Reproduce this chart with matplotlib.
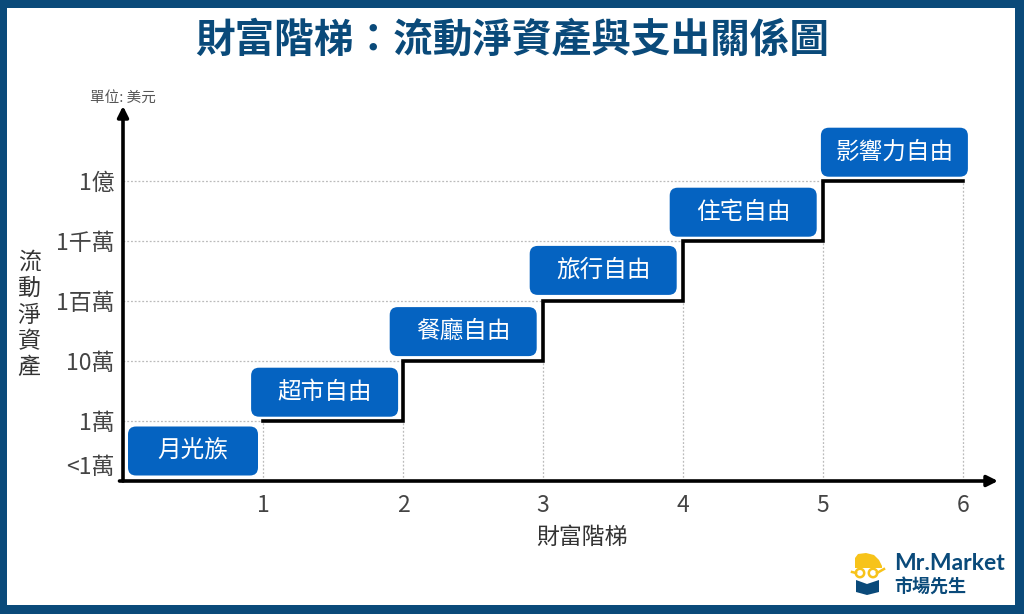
import matplotlib
matplotlib.use("Agg")
import matplotlib.pyplot as plt
from matplotlib.patches import FancyBboxPatch, Rectangle, Polygon, Circle
from matplotlib.transforms import Affine2D

plt.rcParams['font.family'] = ['Noto Sans CJK TC', 'DejaVu Sans']

# ---- data ----
title = "財富階梯：流動淨資產與支出關係圖"
stages = ["月光族", "超市自由", "餐廳自由", "旅行自由", "住宅自由", "影響力自由"]
stage_x = [1, 2, 3, 4, 5, 6]          # x where each step starts (ladder rung)
stage_level = [1, 2, 3, 4, 5, 5]      # net-asset level (log10 scale index)
ytick_labels = ["<1萬", "1萬", "10萬", "1百萬", "1千萬", "1億"]
ytick_pos = [0.27, 1, 2, 3, 4, 5]
xticks = [1, 2, 3, 4, 5, 6]
xlabel = "財富階梯"
ylabel = "流動淨資產"
unit_text = "單位: 美元"

NAVY = "#0A4A7A"
BLUE = "#0563C1"
W, H = 1024, 614

fig = plt.figure(figsize=(W / 100, H / 100), dpi=100)
fig.patch.set_facecolor("white")
px = Affine2D().scale(1 / W, 1 / H) + fig.transFigure

def P(x, y):
    return (x, H - y)

# border
for (x0, y0, w, h) in [(0, 0, 7, H), (W - 9, 0, 9, H), (0, 0, W, 8), (0, H - 9, W, 9)]:
    fig.patches.append(Rectangle((x0, H - y0 - h), w, h, transform=px,
                                 facecolor=NAVY, edgecolor="none", zorder=0))

# title
fig.text(512 / W, 1 - 40 / H, title, ha="center", va="center", fontsize=28.5,
         fontweight="heavy", color=NAVY)

# axes
ax_l, ax_b, ax_r, ax_t = 123, 481, 998, 106
ax = fig.add_axes([ax_l / W, (H - ax_b) / H, (ax_r - ax_l) / W, (ax_b - ax_t) / H])
xmax, ymax = 6.25, 6.25
ax.set_xlim(0, xmax)
ax.set_ylim(0, ymax)
for s in ax.spines.values():
    s.set_visible(False)
ax.set_facecolor("none")

ax.set_xticks(xticks)
ax.set_xticklabels([str(v) for v in xticks])
ax.set_yticks(ytick_pos)
ax.set_yticklabels(ytick_labels)
ax.tick_params(axis="both", length=0, labelsize=16.5, labelcolor="#444444")
ax.tick_params(axis="x", pad=9)
ax.tick_params(axis="y", pad=6)

# axis arrows
arrow_kw = dict(arrowstyle="-|>", lw=2.6, color="black", mutation_scale=16,
                shrinkA=0, shrinkB=0)
ax.annotate("", xy=(1.0, 0), xytext=(-0.004, 0), xycoords="axes fraction",
            textcoords="axes fraction", arrowprops=arrow_kw, annotation_clip=False)
ax.annotate("", xy=(0, 1.0), xytext=(0, 0), xycoords="axes fraction",
            textcoords="axes fraction", arrowprops=arrow_kw, annotation_clip=False)

# dotted drop lines from step corners
grid_kw = dict(color="#BBBBBB", lw=0.9, linestyles=(0, (1.5, 1.5)), zorder=1)
for xs, lv in zip(stage_x[:-1], stage_level[:-1]):
    ax.hlines(lv, 0, xs, **grid_kw)
prev = [stage_level[0]] + stage_level[:-1]
for xs, lv in zip(stage_x, prev):
    ax.vlines(xs, 0, lv, **grid_kw)

# step line
ax.plot(stage_x, stage_level, drawstyle="steps-post", color="black", lw=2.6,
        solid_joinstyle="miter", zorder=3)

# stage boxes
px_per_x = (ax_r - ax_l) / xmax
px_per_y = (ax_b - ax_t) / ymax
aspect = px_per_x / px_per_y
box_cx = [0.5, 1.44, 2.43, 3.43, 4.43, 5.51]
box_cy = [0.5, 1.48, 2.49, 3.51, 4.48, 5.48]
box_w = [130 / px_per_x] + [147 / px_per_x] * 5
box_h = 49 / px_per_y
for name, cx, cy, bw in zip(stages, box_cx, box_cy, box_w):
    patch = FancyBboxPatch((cx - bw / 2, cy - box_h / 2), bw, box_h,
                           boxstyle="round,pad=0,rounding_size=%f" % (8 / px_per_x),
                           mutation_aspect=aspect, facecolor=BLUE, edgecolor="none",
                           zorder=4)
    ax.add_patch(patch)
    ax.text(cx, cy, name, ha="center", va="center", fontsize=17, color="white",
            zorder=5)

# axis labels
fig.text(582 / W, 1 - 537 / H, xlabel, ha="center", va="center", fontsize=16.5,
         color="#333333")
fig.text(29 / W, 1 - 315 / H, "\n".join(ylabel), ha="center", va="center",
         fontsize=16.5, color="#333333", linespacing=1.18)
fig.text(123 / W, 1 - 98 / H, unit_text, ha="center", va="center", fontsize=10.5,
         color="#555555")

# logo
YEL = "#F7C31A"
cap = Polygon([P(855, 568), P(855, 558), P(858, 554), P(866, 553), P(874, 555),
               P(879, 560), P(882, 566), P(882, 568)], closed=True,
              transform=px, facecolor=YEL, edgecolor="none")
fig.patches.append(cap)
for gx in (860, 873):
    fig.patches.append(Circle(P(gx, 573), 4.2, transform=px, facecolor="white",
                              edgecolor=YEL, lw=1.8))
fig.lines.append(plt.Line2D([852 / W, 856 / W], [(H - 572) / H, (H - 573) / H],
                            color=YEL, lw=1.8, transform=fig.transFigure))
fig.lines.append(plt.Line2D([877 / W, 884 / W], [(H - 573) / H, (H - 569) / H],
                            color=YEL, lw=1.8, transform=fig.transFigure))
book = Polygon([P(856, 580), P(867, 584), P(879, 580), P(879, 592), P(867, 595),
                P(856, 592)], closed=True, transform=px, facecolor=NAVY,
               edgecolor="none")
fig.patches.append(book)
fig.text(894 / W, 1 - 563 / H, "Mr.Market", ha="left", va="center", fontsize=16.5,
         fontweight="bold", color=NAVY, family=["Lato", "DejaVu Sans"])
fig.text(894 / W, 1 - 587 / H, "市場先生", ha="left", va="center", fontsize=13,
         fontweight="bold", color=NAVY)

fig.savefig("out.png", dpi=100)
